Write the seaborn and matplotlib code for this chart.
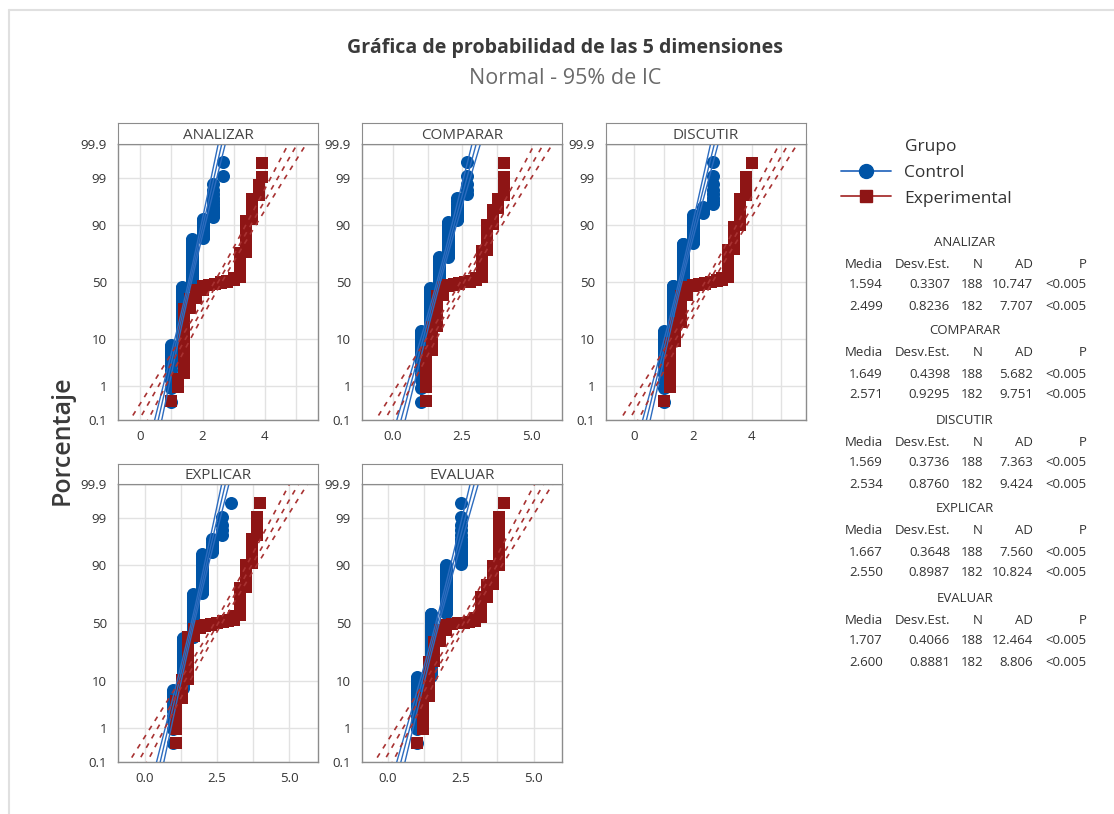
import matplotlib
matplotlib.use("Agg")
import matplotlib.pyplot as plt
import matplotlib.ticker as mticker
from matplotlib.lines import Line2D
import seaborn as sns
import numpy as np
import pandas as pd
from statistics import NormalDist

# --- datos (valor distinto -> frecuencia) ---
dimensiones = ["ANALIZAR", "COMPARAR", "DISCUTIR", "EXPLICAR", "EVALUAR"]
grupos = ["Control", "Experimental"]

analizar_ctrl_val = [1.0, 1.33, 1.67, 2.0, 2.33, 2.67]
analizar_ctrl_n = [15, 71, 71, 17, 12, 2]
analizar_exp_val = [1.0, 1.2, 1.4, 1.6, 1.8, 2.0, 2.2, 2.4, 2.6, 2.8, 3.0, 3.2, 3.4, 3.6, 3.8, 3.9]
analizar_exp_n = [1, 2, 47, 15, 13, 7, 2, 2, 2, 2, 5, 38, 31, 10, 3, 2]

comparar_ctrl_val = [1.0, 1.33, 1.67, 2.0, 2.33, 2.67]
comparar_ctrl_n = [26, 58, 50, 38, 11, 5]
comparar_exp_val = [1.2, 1.4, 1.6, 1.8, 2.0, 2.2, 2.4, 2.6, 2.8, 3.0, 3.2, 3.4, 3.6, 3.8, 4.0]
comparar_exp_n = [11, 18, 40, 15, 2, 2, 2, 1, 2, 5, 40, 26, 9, 4, 5]

discutir_ctrl_val = [1.0, 1.33, 1.67, 2.0, 2.33, 2.67]
discutir_ctrl_n = [26, 62, 64, 24, 4, 8]
discutir_exp_val = [1.0, 1.2, 1.4, 1.6, 1.8, 2.0, 2.2, 2.4, 2.6, 2.8, 3.0, 3.2, 3.4, 3.6, 3.8, 4.0]
discutir_exp_n = [1, 15, 17, 36, 15, 2, 2, 2, 2, 2, 4, 42, 23, 14, 4, 1]

explicar_ctrl_val = [1.0, 1.33, 1.67, 2.0, 2.33, 2.67, 3.0]
explicar_ctrl_n = [13, 57, 70, 37, 6, 4, 1]
explicar_exp_val = [1.1, 1.3, 1.5, 1.7, 1.9, 2.1, 2.3, 2.5, 2.7, 2.9, 3.1, 3.3, 3.5, 3.7, 3.9, 4.0]
explicar_exp_n = [8, 11, 50, 13, 4, 2, 2, 2, 2, 2, 7, 40, 22, 12, 4, 1]

evaluar_ctrl_val = [1.0, 1.5, 2.0, 2.5]
evaluar_ctrl_n = [22, 88, 60, 18]
evaluar_exp_val = [1.0, 1.2, 1.4, 1.6, 1.8, 2.0, 2.2, 2.4, 2.6, 2.8, 3.0, 3.2, 3.4, 3.6, 3.8, 4.0]
evaluar_exp_n = [1, 8, 27, 26, 18, 9, 1, 1, 1, 1, 7, 31, 15, 18, 17, 1]

# tabla de estadisticos
media_ctrl = [1.594, 1.649, 1.569, 1.667, 1.707]
desv_ctrl = [0.3307, 0.4398, 0.3736, 0.3648, 0.4066]
ad_ctrl = [10.747, 5.682, 7.363, 7.560, 12.464]
media_exp = [2.499, 2.571, 2.534, 2.550, 2.600]
desv_exp = [0.8236, 0.9295, 0.8760, 0.8987, 0.8881]
ad_exp = [7.707, 9.751, 9.424, 10.824, 8.806]
n_ctrl = 188
n_exp = 182
p_valor = "<0.005"

pct_ticks = [0.1, 1, 10, 50, 90, 99, 99.9]

series = {
    "ANALIZAR": [(analizar_ctrl_val, analizar_ctrl_n), (analizar_exp_val, analizar_exp_n)],
    "COMPARAR": [(comparar_ctrl_val, comparar_ctrl_n), (comparar_exp_val, comparar_exp_n)],
    "DISCUTIR": [(discutir_ctrl_val, discutir_ctrl_n), (discutir_exp_val, discutir_exp_n)],
    "EXPLICAR": [(explicar_ctrl_val, explicar_ctrl_n), (explicar_exp_val, explicar_exp_n)],
    "EVALUAR": [(evaluar_ctrl_val, evaluar_ctrl_n), (evaluar_exp_val, evaluar_exp_n)],
}

nd = NormalDist()

def puntos_prob(vals, counts):
    x = np.repeat(vals, counts)
    n = len(x)
    p = (np.arange(1, n + 1) - 0.3) / (n + 0.4)  # rangos medianos
    z = [nd.inv_cdf(q) for q in p]
    return pd.DataFrame({"valor": x, "z": z})

sns.set_style("white")
plt.rcParams["font.family"] = ["Open Sans", "DejaVu Sans"]

W, H = 1114, 814
fig = plt.figure(figsize=(W / 100, H / 100), dpi=100)

def fx(px):
    return px / W

def fy(py):
    return 1 - py / H

azul, azul_l = "#0054a6", "#2d6cbf"
rojo, rojo_l = "#8e1515", "#a83232"
gris_txt = "#333333"

# layout de paneles
cols_px = [118, 362, 606]
filas_px = [(123, 144, 420), (464, 484, 762)]
xlims = [(-0.72, 5.71), (-1.12, 6.11), (-0.96, 5.84), (-0.92, 6.0), (-0.88, 5.97)]
xmajor = [2.0, 2.5, 2.0, 2.5, 2.5]

zmax = nd.inv_cdf(0.999)
zticks = [nd.inv_cdf(p / 100) for p in pct_ticks]

for k, dim in enumerate(dimensiones):
    fila, col = divmod(k, 3)
    left = cols_px[col]
    ts, tp, bp = filas_px[fila]
    ax = fig.add_axes([fx(left), fy(bp), fx(200), (bp - tp) / H])
    sax = fig.add_axes([fx(left), fy(tp), fx(200), (tp - ts) / H])
    sax.set_xticks([])
    sax.set_yticks([])
    for s in sax.spines.values():
        s.set_color("#8c8c8c")
    sax.text(0.5, 0.42, dim, ha="center", va="center", fontsize=11, color="#444444",
             transform=sax.transAxes)

    estad = [(media_ctrl[k], desv_ctrl[k], n_ctrl), (media_exp[k], desv_exp[k], n_exp)]
    zz = np.linspace(-3.4, 3.4, 200)
    for g, ((vals, cnts), (mu, sd, n)) in enumerate(zip(series[dim], estad)):
        df = puntos_prob(vals, cnts)
        sns.scatterplot(data=df, x="valor", y="z", ax=ax, color=[azul, rojo][g],
                        marker=["o", "s"][g], s=[88, 80][g], linewidth=0, zorder=2,
                        legend=False)
        xfit = mu + sd * zz
        half = 1.96 * sd * np.sqrt(1 / n + zz ** 2 / (2 * n))
        if g == 0:
            kw = dict(color=azul_l, lw=1.0, ls="-")
        else:
            kw = dict(color=rojo_l, lw=1.2, ls=(0, (3, 3.5)))
        for xl in (xfit - half, xfit, xfit + half):
            ax.plot(xl, zz, zorder=3, **kw)

    ax.set_xlim(*xlims[k])
    ax.set_ylim(-zmax, zmax)
    ax.set_yticks(zticks)
    ax.set_yticklabels([("%g" % p) for p in pct_ticks])
    ax.xaxis.set_major_locator(mticker.MultipleLocator(xmajor[k]))
    ax.xaxis.set_minor_locator(mticker.MultipleLocator(xmajor[k] / 2))
    if xmajor[k] == 2.5:
        ax.xaxis.set_major_formatter(mticker.FormatStrFormatter("%.1f"))
    else:
        ax.xaxis.set_major_formatter(mticker.FormatStrFormatter("%d"))
    ax.grid(True, axis="x", which="both", color="#e2e2e2", lw=1)
    ax.grid(True, axis="y", which="major", color="#e2e2e2", lw=1)
    ax.set_axisbelow(True)
    ax.tick_params(axis="x", which="major", length=3, width=1, color="#8c8c8c",
                   labelsize=9.5, labelcolor=gris_txt, pad=4)
    ax.tick_params(axis="y", which="major", length=0, labelsize=9.5,
                   labelcolor=gris_txt, pad=8)
    ax.tick_params(axis="x", which="minor", length=0)
    ax.set_xlabel("")
    ax.set_ylabel("")
    for s in ax.spines.values():
        s.set_color("#8c8c8c")
        s.set_linewidth(1)

# titulos
fig.text(fx(565), fy(48), "Gráfica de probabilidad de las 5 dimensiones", ha="center",
         va="center", fontsize=14.1, fontweight="bold", color="#3a3a3a")
fig.text(fx(565), fy(78), "Normal - 95% de IC", ha="center", va="center", fontsize=15.5,
         color="#6a6a6a")
fig.text(fx(62), fy(440), "Porcentaje", ha="center", va="center", rotation=90,
         fontsize=18, fontweight="semibold", color="#3a3a3a")

# marco exterior
fig.add_artist(Line2D([fx(9), fx(9)], [fy(10), 0], color="#e0e0e0", lw=1.5))
fig.add_artist(Line2D([fx(9), 1], [fy(10), fy(10)], color="#e0e0e0", lw=1.5))

# leyenda
fig.text(fx(905), fy(147), "Grupo", ha="left", va="center", fontsize=12.5, color=gris_txt)
handles = [
    Line2D([], [], color=azul_l, lw=1.3, marker="o", markersize=10,
           markerfacecolor=azul, markeredgecolor=azul),
    Line2D([], [], color=rojo_l, lw=1.3, marker="s", markersize=8,
           markerfacecolor=rojo, markeredgecolor=rojo),
]
fig.legend(handles, grupos, loc="upper left", bbox_to_anchor=(fx(832), fy(156)),
           frameon=False, fontsize=12.5, handlelength=2.9, handletextpad=0.75,
           labelspacing=0.55, borderpad=0, labelcolor=gris_txt)

# tabla de estadisticos
col_right = [883, 950, 983, 1033, 1087]
encab = ["Media", "Desv.Est.", "N", "AD", "P"]
for k, dim in enumerate(dimensiones):
    y0 = 242 + 89 * k
    fig.text(fx(965), fy(y0), dim, ha="center", va="center", fontsize=9.5, color=gris_txt)
    for c, t in zip(col_right, encab):
        fig.text(fx(c), fy(y0 + 22), t, ha="right", va="center", fontsize=9.5, color=gris_txt)
    filas = [
        ["%.3f" % media_ctrl[k], "%.4f" % desv_ctrl[k], str(n_ctrl), "%.3f" % ad_ctrl[k], p_valor],
        ["%.3f" % media_exp[k], "%.4f" % desv_exp[k], str(n_exp), "%.3f" % ad_exp[k], p_valor],
    ]
    for r, fila_txt in enumerate(filas):
        for c, t in zip(col_right, fila_txt):
            fig.text(fx(c), fy(y0 + 43 + 21 * r), t, ha="right", va="center", fontsize=9.5,
                     color=gris_txt)

fig.savefig("out.png", dpi=100, facecolor="white")
